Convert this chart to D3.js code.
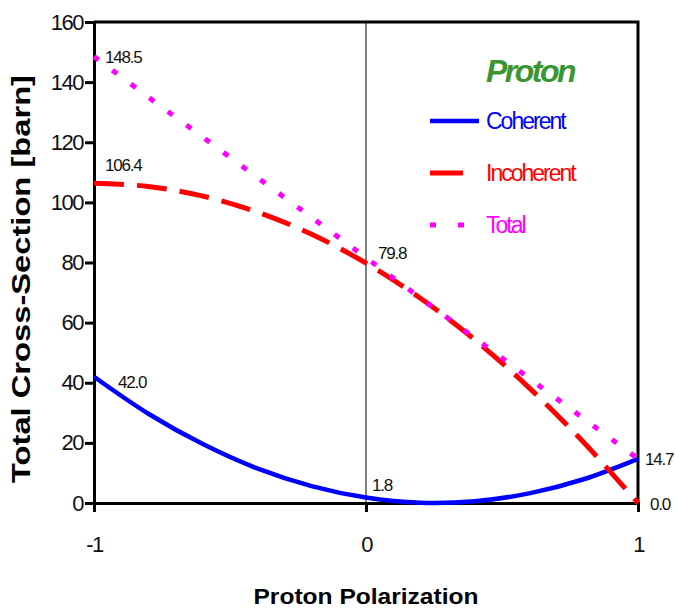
<!DOCTYPE html>
<meta charset="utf-8">
<style>
body { margin: 0; background: #fff; font-family: "Liberation Sans", Arial, sans-serif; }
.tick text { font-size: 22px; letter-spacing: -1.5px; fill: #111; }
.ann { font-size: 17px; letter-spacing: -1.2px; fill: #111; }
</style>
<body>
<script src="https://cdn.jsdelivr.net/npm/d3@7"></script>
<script>
// data
var polarization = [-1, -0.8, -0.6, -0.4, -0.2, 0, 0.2, 0.4, 0.6, 0.8, 1];
var coherent   = [42.0, 29.7, 19.6, 11.5, 5.6, 1.8, 0.1, 0.6, 3.2, 7.9, 14.7];
var incoherent = [106.4, 105.3, 102.1, 96.8, 89.4, 79.8, 68.1, 54.3, 38.3, 20.2, 0.0];
var total      = [148.5, 135.0, 121.7, 108.3, 95.0, 81.6, 68.2, 54.9, 41.5, 28.1, 14.7];
var yTicks = [0, 20, 40, 60, 80, 100, 120, 140, 160];
var xTicks = [-1, 0, 1];
var seriesNames = ["Coherent", "Incoherent", "Total"];
// value labels: [x, y, text]
var labels = [[-1, 148.5, "148.5"], [-1, 106.4, "106.4"], [-1, 42.0, "42.0"],
              [0, 79.8, "79.8"], [0, 1.8, "1.8"], [1, 14.7, "14.7"], [1, 0.0, "0.0"]];
var labelShift = [[11, 6], [11, -12], [24, 11], [12, -4], [6, -7], [7, 6], [12, 7]];

var margin = {top: 22, right: 38, bottom: 110, left: 94};
var width = 676 - margin.left - margin.right;
var height = 613 - margin.top - margin.bottom;

var svg = d3.select("body").append("svg")
  .attr("width", 676).attr("height", 613)
  .append("g")
  .attr("transform", "translate(" + margin.left + "," + margin.top + ")");

var x = d3.scaleLinear().domain([-1, 1]).range([0, width]);
var y = d3.scaleLinear().domain([0, 160]).range([height, 0]);

// zero polarization line
svg.append("line")
  .attr("x1", x(0)).attr("x2", x(0))
  .attr("y1", 0).attr("y2", height)
  .attr("stroke", "#555").attr("stroke-width", 1.5);

// frame
svg.append("path")
  .attr("d", "M0,0H" + width + "V" + height)
  .attr("fill", "none").attr("stroke", "#000").attr("stroke-width", 3);

var yAxis = svg.append("g")
  .call(d3.axisLeft(y).tickValues(yTicks).tickSize(9).tickPadding(2));
var xAxis = svg.append("g")
  .attr("transform", "translate(0," + height + ")")
  .call(d3.axisBottom(x).tickValues(xTicks).tickSize(9).tickPadding(24).tickFormat(d3.format("d")));
[yAxis, xAxis].forEach(function(a) {
  a.select(".domain").attr("stroke-width", 3).attr("stroke", "#000");
  a.selectAll(".tick line").attr("stroke-width", 3).attr("stroke", "#000");
  a.selectAll(".tick text").attr("font-family", null).attr("font-size", null);
});
xAxis.selectAll(".tick text").text(function(d) { return d < 0 ? "-1" : d; });

var line = d3.line().curve(d3.curveCatmullRom)
  .x(function(d, i) { return x(polarization[i]); })
  .y(function(d) { return y(d); });

var styles = [
  {data: coherent, color: "#0000ff", w: 4.5, dash: null},
  {data: incoherent, color: "#ff0000", w: 5, dash: "30,13"},
  {data: total, color: "#ff00ff", w: 5, dash: "6,17"}
];
styles.forEach(function(s) {
  svg.append("path")
    .attr("d", line(s.data))
    .attr("fill", "none")
    .attr("stroke", s.color)
    .attr("stroke-width", s.w)
    .attr("stroke-dasharray", s.dash);
});

labels.forEach(function(l, i) {
  svg.append("text").attr("class", "ann")
    .attr("x", x(l[0]) + labelShift[i][0])
    .attr("y", y(l[1]) + labelShift[i][1])
    .text(l[2]);
});

// legend
var lg = svg.append("g").attr("transform", "translate(336,0)");
lg.append("text")
  .attr("x", 56).attr("y", 60)
  .attr("font-size", 32).attr("font-weight", "bold").attr("font-style", "italic")
  .attr("letter-spacing", -2.5).attr("fill", "#3a9632")
  .text("Proton");
var legendLines = [
  {x2: 49, dash: null},
  {x2: 33, dash: null},
  {x2: 35, dash: "6,22"}
];
seriesNames.forEach(function(n, i) {
  var yy = 99 + i * 52;
  lg.append("line")
    .attr("x1", 0).attr("x2", legendLines[i].x2)
    .attr("y1", yy).attr("y2", yy)
    .attr("stroke", styles[i].color).attr("stroke-width", styles[i].w)
    .attr("stroke-dasharray", legendLines[i].dash);
  lg.append("text")
    .attr("x", 56).attr("y", yy + 8)
    .attr("font-size", 23).attr("letter-spacing", -2)
    .attr("fill", styles[i].color)
    .text(n);
});

// axis titles
svg.append("text")
  .attr("transform", "rotate(-90)")
  .attr("x", -257).attr("y", -64)
  .attr("text-anchor", "middle")
  .attr("font-size", 26).attr("font-weight", "bold")
  .attr("textLength", 408).attr("lengthAdjust", "spacingAndGlyphs")
  .text("Total Cross-Section [barn]");

svg.append("text")
  .attr("x", width / 2).attr("y", height + 101)
  .attr("text-anchor", "middle")
  .attr("font-size", 22).attr("font-weight", "bold")
  .attr("textLength", 225).attr("lengthAdjust", "spacingAndGlyphs")
  .text("Proton Polarization");
</script>
</body>
